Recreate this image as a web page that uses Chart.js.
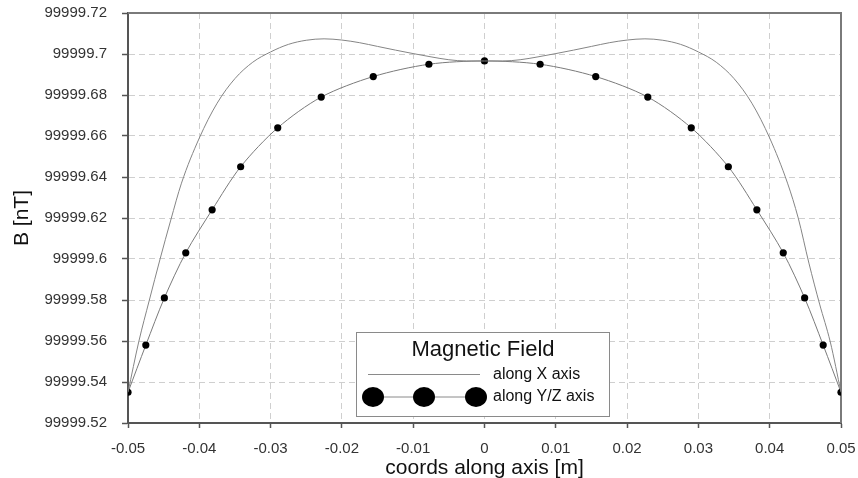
<!DOCTYPE html>
<html>
<head>
<meta charset="utf-8">
<script src="https://cdn.jsdelivr.net/npm/chart.js@4"></script>
<style>
  body { margin: 0; background: #fff; }
  #wrap { width: 858px; height: 478px; }
</style>
</head>
<body>
<div id="wrap"><canvas id="fieldChart" width="858" height="478"></canvas></div>
<script>
// Position along the axis [m] and field [nT] - curve along X
const xAxisPos = [-0.05, -0.0485, -0.047, -0.0455, -0.044, -0.0425, -0.04, -0.0375, -0.035, -0.0325, -0.03, -0.0275, -0.025, -0.0225, -0.02, -0.0175, -0.015, -0.0125, -0.01, -0.0075, -0.005, -0.0025, 0,
  0.0025, 0.005, 0.0075, 0.01, 0.0125, 0.015, 0.0175, 0.02, 0.0225, 0.025, 0.0275, 0.03, 0.0325, 0.035, 0.0375, 0.04, 0.0425, 0.044, 0.0455, 0.047, 0.0485, 0.05];
const bxValues = [99999.535, 99999.5595, 99999.580, 99999.600, 99999.619, 99999.637, 99999.659, 99999.676, 99999.688, 99999.696, 99999.701, 99999.7047, 99999.7067, 99999.7074, 99999.7068, 99999.7055, 99999.7037, 99999.7019, 99999.7002, 99999.6986, 99999.6972, 99999.6966, 99999.6966,
  99999.6966, 99999.6972, 99999.6986, 99999.7002, 99999.7019, 99999.7037, 99999.7055, 99999.7068, 99999.7074, 99999.7067, 99999.7047, 99999.701, 99999.696, 99999.688, 99999.676, 99999.659, 99999.637, 99999.620, 99999.598, 99999.578, 99999.5595, 99999.535];

// Curve along Y/Z (with markers)
const yzPos = [-0.05, -0.0475, -0.0449, -0.0419, -0.0382, -0.0342, -0.029, -0.0229, -0.0156, -0.0078, 0,
  0.0078, 0.0156, 0.0229, 0.029, 0.0342, 0.0382, 0.0419, 0.0449, 0.0475, 0.05];
const byzValues = [99999.535, 99999.558, 99999.581, 99999.603, 99999.624, 99999.645, 99999.664, 99999.679, 99999.689, 99999.695, 99999.6966,
  99999.695, 99999.689, 99999.679, 99999.664, 99999.645, 99999.624, 99999.603, 99999.581, 99999.558, 99999.535];

const xTicks = [-0.05, -0.04, -0.03, -0.02, -0.01, 0, 0.01, 0.02, 0.03, 0.04, 0.05];
const yTicks = [99999.52, 99999.54, 99999.56, 99999.58, 99999.6, 99999.62, 99999.64, 99999.66, 99999.68, 99999.7, 99999.72];

const seriesNames = ["along X axis", "along Y/Z axis"];
const legendTitle = "Magnetic Field";

const FONT = "'Liberation Sans', Arial, sans-serif";

// cadre haut / droite du graphe
const frame = {
  id: "frame",
  beforeDatasetsDraw(chart) {
    const a = chart.chartArea;
    const ctx = chart.ctx;
    ctx.save();
    ctx.strokeStyle = "#7a7a7a";
    ctx.lineWidth = 2;
    ctx.beginPath();
    ctx.moveTo(a.left, a.top);
    ctx.lineTo(a.right, a.top);
    ctx.lineTo(a.right, a.bottom);
    ctx.stroke();
    ctx.restore();
  }
};

// legende encadree au bas du graphe
const legendBox = {
  id: "legendBox",
  afterDraw(chart) {
    const a = chart.chartArea;
    const ctx = chart.ctx;
    const left = a.left + 228, top = a.bottom - 91, w = 253, h = 84;
    ctx.save();
    ctx.fillStyle = "#fff";
    ctx.fillRect(left, top, w, h);
    ctx.strokeStyle = "#8a8a8a";
    ctx.lineWidth = 1;
    ctx.strokeRect(left + 0.5, top + 0.5, w, h);

    ctx.fillStyle = "#111";
    ctx.textAlign = "center";
    ctx.textBaseline = "middle";
    ctx.font = "22px " + FONT;
    ctx.fillText(legendTitle, left + 127, top + 18);

    ctx.textAlign = "left";
    ctx.font = "16px " + FONT;
    ctx.fillText(seriesNames[0], left + 137, top + 43);
    ctx.fillText(seriesNames[1], left + 137, top + 65);

    ctx.strokeStyle = "#8a8a8a";
    ctx.beginPath();
    ctx.moveTo(left + 12, top + 42.5);
    ctx.lineTo(left + 124, top + 42.5);
    ctx.moveTo(left + 17, top + 65);
    ctx.lineTo(left + 120, top + 65);
    ctx.stroke();

    ctx.fillStyle = "#000";
    [17, 68, 120].forEach(dx => {
      ctx.beginPath();
      ctx.ellipse(left + dx, top + 65, 11, 10, 0, 0, Math.PI * 2);
      ctx.fill();
    });
    ctx.restore();
  }
};

const ctx = document.getElementById("fieldChart").getContext("2d");

new Chart(ctx,
{
  type: "line",
  data:
  {
    datasets: [
    {
      label: seriesNames[0],
      data: xAxisPos.map((x, i) => ({ x: x, y: bxValues[i] })),
      borderColor: "#858585",
      borderWidth: 1,
      pointRadius: 0,
      cubicInterpolationMode: "monotone",
      fill: false
    },
    {
      label: seriesNames[1],
      data: yzPos.map((x, i) => ({ x: x, y: byzValues[i] })),
      borderColor: "#7a7a7a",
      borderWidth: 1,
      pointRadius: 3.6,
      pointBorderWidth: 0,
      pointBackgroundColor: "#000",
      tension: 0.3,
      fill: false
    }]
  },
  options:
  {
    responsive: false,
    animation: false,
    layout: { padding: { top: 13, right: 17, left: 0, bottom: 0 } },
    plugins:
    {
      legend: { display: false },
      tooltip: { enabled: false }
    },
    scales:
    {
      x:
      {
        type: "linear",
        min: -0.05,
        max: 0.05,
        afterBuildTicks: s => { s.ticks = xTicks.map(v => ({ value: v })); },
        afterFit: s => { s.height = 55; s.paddingLeft = 0; s.paddingRight = 0; },
        grid: { color: "#cfcfcf", lineWidth: 1, tickLength: 5, tickColor: "#555", tickWidth: 1.5, tickBorderDash: [] },
        border: { color: "#555", width: 2, dash: [6, 4] },
        ticks:
        {
          color: "#333",
          font: { family: FONT, size: 15 },
          padding: 12,
          maxRotation: 0,
          callback: v => String(Math.round(v * 100) / 100)
        },
        title:
        {
          display: true,
          text: "coords along axis [m]",
          color: "#111",
          font: { family: FONT, size: 21 },
          padding: { top: 0, bottom: -3 }
        }
      },
      y:
      {
        min: 99999.52,
        max: 99999.72,
        afterBuildTicks: s => { s.ticks = yTicks.map(v => ({ value: v })); },
        afterFit: s => { s.width = 128; s.paddingTop = 0; s.paddingBottom = 0; },
        grid: { color: "#cfcfcf", lineWidth: 1, tickLength: 6, tickColor: "#555", tickWidth: 1.5, tickBorderDash: [] },
        border: { color: "#555", width: 2, dash: [6, 4] },
        ticks:
        {
          color: "#333",
          font: { family: FONT, size: 15 },
          padding: 15,
          callback: v => String(Math.round(v * 100) / 100)
        },
        title:
        {
          display: true,
          text: "B [nT]",
          color: "#111",
          font: { family: FONT, size: 21 },
          padding: { top: 10, bottom: 0 }
        }
      }
    }
  },
  plugins: [frame, legendBox]
});
</script>
</body>
</html>
